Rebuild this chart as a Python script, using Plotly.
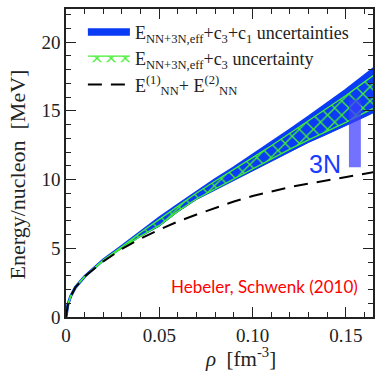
import plotly.graph_objects as go

# density [fm^-3]
rho = [0, 0.001, 0.0025, 0.005, 0.01, 0.015, 0.02, 0.03, 0.04, 0.05, 0.06, 0.07,
       0.08, 0.09, 0.10, 0.11, 0.12, 0.13, 0.14, 0.15, 0.16, 0.17]
# E_NN+3N,eff + c3 + c1 uncertainty band (blue)
blue_hi = [0, 0.9, 1.5, 2.15, 2.95, 3.55, 4.15, 5.15, 6.2, 7.2, 8.15, 9.1,
           10.0, 10.85, 11.75, 12.65, 13.6, 14.55, 15.5, 16.5, 17.55, 18.6]
blue_lo = [0, 0.9, 1.5, 2.15, 2.95, 3.55, 4.1, 5.0, 5.85, 6.6, 7.65, 8.55,
           9.25, 9.95, 10.65, 11.35, 12.05, 12.7, 13.3, 13.9, 14.55, 15.2]
# E_NN+3N,eff + c3 uncertainty band (green hatched)
green_hi = [0, 0.9, 1.5, 2.15, 2.95, 3.55, 4.14, 5.13, 6.15, 7.1, 8.08, 9.02,
            9.89, 10.72, 11.59, 12.45, 13.37, 14.27, 15.17, 16.11, 17.1, 18.09]
green_lo = [0, 0.9, 1.5, 2.15, 2.95, 3.55, 4.1, 5.02, 5.88, 6.66, 7.7, 8.6,
            9.33, 10.04, 10.76, 11.49, 12.21, 12.88, 13.51, 14.16, 14.86, 15.55]
# E_NN^(1) + E_NN^(2) (dashed)
nn = [0, 0.9, 1.5, 2.15, 2.95, 3.5, 4.05, 4.95, 5.7, 6.35, 6.95, 7.45,
      7.95, 8.4, 8.8, 9.15, 9.45, 9.7, 9.95, 10.2, 10.4, 10.65]

# 3N contribution bar
bar_x = [0.1516, 0.158]
bar_y = [10.9, 15.8]

x_ticks = [0, 0.05, 0.10, 0.15]
x_ticktext = ["0", "0.05", "0.10", "0.15"]
y_ticks = [0, 5, 10, 15, 20]
y_ticktext = ["0", "5", "10", "15", "20"]

BLUE = "#0a3cf5"
GREEN = "#44ee33"
SERIF = "Liberation Serif, Times New Roman, serif"

fig = go.Figure()

fig.add_trace(go.Scatter(x=rho, y=blue_lo, mode="lines", line=dict(color=BLUE, width=1),
                         showlegend=False, hoverinfo="skip", legendgroup="a"))
fig.add_trace(go.Scatter(x=rho, y=blue_hi, mode="lines", line=dict(color=BLUE, width=3),
                         fill="tonexty", fillcolor=BLUE, legendgroup="a",
                         name="E<sub>NN+3N,eff</sub>+c<sub>3</sub>+c<sub>1</sub> uncertainties"))
fig.add_trace(go.Scatter(x=rho, y=green_lo, mode="lines", line=dict(color=GREEN, width=1.3),
                         showlegend=False, hoverinfo="skip", legendgroup="b"))
fig.add_trace(go.Scatter(x=rho, y=green_hi, mode="lines", line=dict(color=GREEN, width=1.3),
                         fill="tonexty", fillcolor="rgba(0,0,0,0)",
                         fillpattern=dict(shape="x", fgcolor=GREEN, size=10, solidity=0.25,
                                          fillmode="replace"),
                         legendgroup="b",
                         name="E<sub>NN+3N,eff</sub>+c<sub>3</sub> uncertainty"))
fig.add_trace(go.Scatter(x=rho, y=nn, mode="lines", line=dict(color="black", width=2, dash="14px,9px"),
                         legendgroup="c",
                         name="E<sup>(1)</sup><sub>NN</sub>+ E<sup>(2)</sup><sub>NN</sub>"))

fig.add_shape(type="rect", xref="x", yref="y", x0=bar_x[0], x1=bar_x[1], y0=bar_y[0], y1=bar_y[1],
              fillcolor="rgba(60,60,255,0.72)", line=dict(width=0), layer="above")

fig.add_annotation(x=0.1388, y=11.13, xref="x", yref="y", text="3N", showarrow=False,
                   xanchor="center", yanchor="middle",
                   font=dict(family="Liberation Sans, Arial, sans-serif", size=25, color="#1a3cff"))
fig.add_annotation(x=0.1064, y=2.2, xref="x", yref="y", text="Hebeler, Schwenk (2010)",
                   showarrow=False, xanchor="center", yanchor="middle",
                   font=dict(family="Lato, sans-serif", size=17, color="#ff0000"))

fig.add_annotation(x=-0.1586, y=0.464, xref="paper", yref="paper", text="Energy/nucleon  [MeV]",
                   textangle=-90, showarrow=False, xanchor="center", yanchor="middle",
                   font=dict(family=SERIF, size=22, color="#222"))
fig.add_annotation(x=0.57, y=-0.133, xref="paper", yref="paper",
                   text="<i>ρ</i>  [fm<sup>-3</sup>]", showarrow=False,
                   xanchor="center", yanchor="middle",
                   font=dict(family=SERIF, size=21, color="#222"))

axis_common = dict(showline=True, linecolor="#222", linewidth=1.5, mirror="allticks",
                   ticks="inside", ticklen=10, tickwidth=1.3, tickcolor="#222",
                   showgrid=False, zeroline=False,
                   tickfont=dict(family=SERIF, size=19, color="#222"))

fig.update_xaxes(range=[0, 0.1645], tickvals=x_ticks, ticktext=x_ticktext,
                 minor=dict(dtick=0.01, ticklen=5, ticks="inside", tickcolor="#222", tickwidth=1.2),
                 **axis_common)
fig.update_yaxes(range=[0, 22.4], tickvals=y_ticks, ticktext=y_ticktext,
                 minor=dict(dtick=1, ticklen=5, ticks="inside", tickcolor="#222", tickwidth=1.2),
                 **axis_common)

fig.update_layout(
    width=377, height=372,
    margin=dict(l=66, r=2, t=9, b=55),
    plot_bgcolor="white", paper_bgcolor="white",
    showlegend=True,
    legend=dict(x=0.055, y=0.985, xanchor="left", yanchor="top", bgcolor="rgba(0,0,0,0)",
                font=dict(family=SERIF, size=18, color="#222"), itemwidth=42,
                tracegroupgap=6, traceorder="normal"),
)

fig.write_html("out.html")
